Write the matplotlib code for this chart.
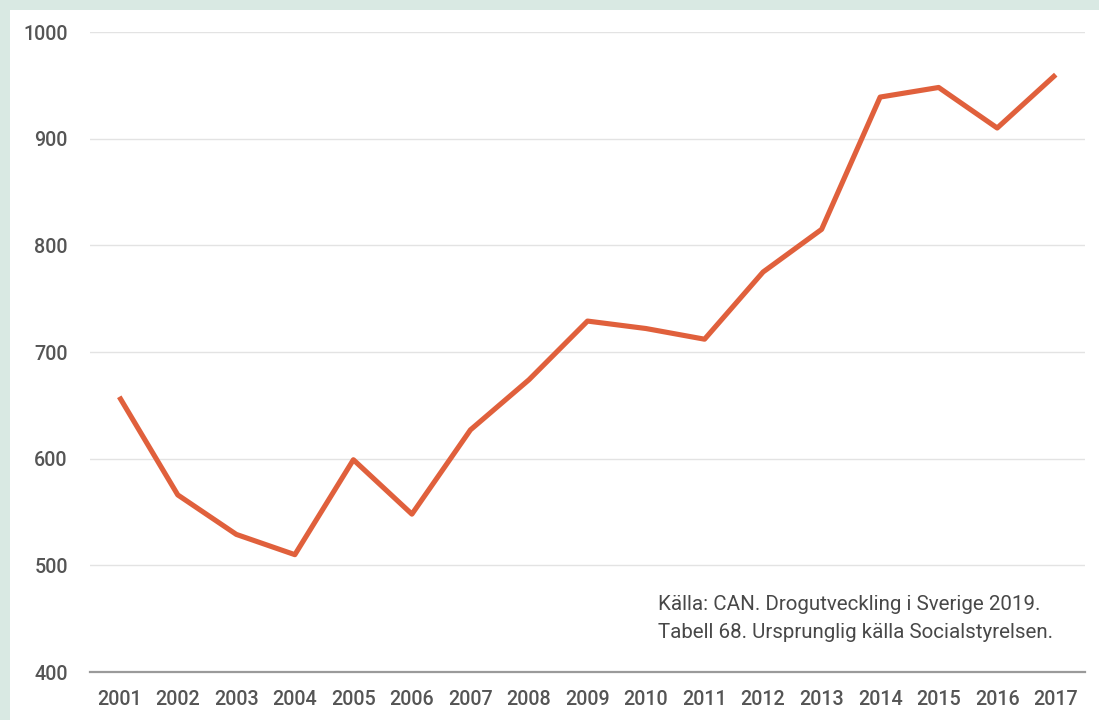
import matplotlib
matplotlib.use('Agg')
import matplotlib.pyplot as plt
from matplotlib.patches import Rectangle

years = ['2001', '2002', '2003', '2004', '2005', '2006', '2007', '2008', '2009',
         '2010', '2011', '2012', '2013', '2014', '2015', '2016', '2017']
values = [658, 566, 529, 510, 599, 548, 627, 674, 729,
          722, 712, 775, 815, 939, 948, 910, 960]
yticks = [400, 500, 600, 700, 800, 900, 1000]
source = 'Källa: CAN. Drogutveckling i Sverige 2019.\nTabell 68. Ursprunglig källa Socialstyrelsen.'

plt.rcParams['font.family'] = ['Roboto', 'DejaVu Sans']

W, H = 1099, 720
fig = plt.figure(figsize=(W / 100, H / 100), dpi=100, facecolor='#d9e9e3')
fig.add_artist(Rectangle((10 / W, 0), 1, 1 - 10 / H, transform=fig.transFigure,
                         facecolor='white', edgecolor='none', zorder=-5))

ax = fig.add_axes([90 / W, 1 - 672 / H, (1085 - 90) / W, (672 - 32) / H])
ax.set_facecolor('white')
x = range(len(years))
ax.plot(x, values, color='#e0603c', lw=3.7, solid_capstyle='butt', zorder=3)

ax.set_xlim(-0.5, len(years) - 0.5)
ax.set_ylim(400, 1000)
ax.set_yticks(yticks)
ax.set_xticks(list(x))
ax.set_xticklabels(years)
ax.grid(axis='y', color='#e3e3e3', lw=1)
ax.set_axisbelow(True)
for s in ['top', 'right', 'left']:
    ax.spines[s].set_visible(False)
ax.spines['bottom'].set_color('#9a9a9a')
ax.spines['bottom'].set_linewidth(1.6)
ax.tick_params(length=0, labelsize=14.2, labelcolor='#555555')
ax.tick_params(axis='y', pad=16)
ax.tick_params(axis='x', pad=13)
for lab in ax.get_xticklabels() + ax.get_yticklabels():
    lab.set_fontweight('medium')

fig.text(658 / W, 1 - 595 / H, source, ha='left', va='top', fontsize=14.8,
         color='#484848', linespacing=1.62)

fig.savefig('out.png', dpi=100, facecolor=fig.get_facecolor())
